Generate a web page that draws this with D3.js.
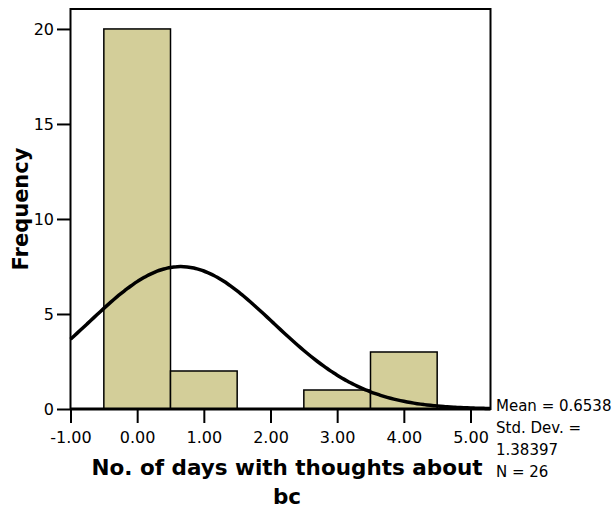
<!DOCTYPE html>
<html>
<head>
<meta charset="utf-8">
<script src="https://cdn.jsdelivr.net/npm/d3@7"></script>
<style>
    body { margin: 0; background: #ffffff; }
    svg { display: block; }
</style>
</head>
<body>
<div id="histogram"></div>
<script>
// histogram bins (left edges), counts and axis ticks
const binStarts = [-0.5, 0.5, 1.5, 2.5, 3.5];
const binWidth = 1;
const frequencies = [20, 2, 0, 1, 3];
const xTickValues = [-1, 0, 1, 2, 3, 4, 5];
const yTickValues = [0, 5, 10, 15, 20];

// summary stats printed beside the chart
const meanValue = 0.6538;
const stdDevValue = 1.38397;
const countN = 26;
const statsLines = ["Mean = 0.6538", "Std. Dev. =", "1.38397", "N = 26"];
const xTitleLines = ["No. of days with thoughts about", "bc"];
const yTitle = "Frequency";

window.addEventListener("load", function () {
    drawHistogram();
});

function drawHistogram() {
    const canvasWidth = 615;
    const canvasHeight = 512;
    const plotLeft = 70.5, plotRight = 490.5, plotTop = 9, plotBottom = 409;

    const svg = d3.select("#histogram")
        .append("svg")
        .attr("width", canvasWidth)
        .attr("height", canvasHeight);

    const xScale = d3.scaleLinear()
        .domain([-1, 5.3])
        .range([plotLeft, plotRight]);

    const yScale = d3.scaleLinear()
        .domain([0, 21.05])
        .range([plotBottom, plotTop]);

    // bars
    const bins = binStarts.map((b, i) => ({ x0: b, x1: b + binWidth, count: frequencies[i] }));
    svg.append("g")
        .selectAll("rect")
        .data(bins.filter(d => d.count > 0))
        .join("rect")
        .attr("x", d => xScale(d.x0))
        .attr("y", d => yScale(d.count))
        .attr("width", d => xScale(d.x1) - xScale(d.x0))
        .attr("height", d => yScale(0) - yScale(d.count))
        .attr("fill", "#d3ce99")
        .attr("stroke", "#000")
        .attr("stroke-width", 1.5);

    // fitted normal curve (from mean, sd and N shown in the chart)
    const scaleFactor = countN * binWidth / (stdDevValue * Math.sqrt(2 * Math.PI));
    const curvePts = d3.range(-1, 5.3001, 0.05).map(x => ({
        x: x,
        y: scaleFactor * Math.exp(-0.5 * Math.pow((x - meanValue) / stdDevValue, 2))
    }));
    const line = d3.line()
        .x(d => xScale(d.x))
        .y(d => yScale(d.y))
        .curve(d3.curveBasis);
    svg.append("path")
        .datum(curvePts)
        .attr("fill", "none")
        .attr("stroke", "#000")
        .attr("stroke-width", 3.5)
        .attr("d", line);

    // frame
    svg.append("rect")
        .attr("x", plotLeft)
        .attr("y", plotTop)
        .attr("width", plotRight - plotLeft)
        .attr("height", plotBottom - plotTop)
        .attr("fill", "none")
        .attr("stroke", "#000")
        .attr("stroke-width", 2);

    // axes
    const xAxis = svg.append("g")
        .attr("transform", `translate(0, ${plotBottom})`)
        .call(d3.axisBottom(xScale)
            .tickValues(xTickValues)
            .tickFormat(d => d.toFixed(2))   // plain hyphen like the original
            .tickSize(14)
            .tickPadding(8.5));

    const yAxis = svg.append("g")
        .attr("transform", `translate(${plotLeft}, 0)`)
        .call(d3.axisLeft(yScale)
            .tickValues(yTickValues)
            .tickSize(13.5)
            .tickPadding(3));

    [xAxis, yAxis].forEach(ax => {
        ax.select(".domain").remove();
        ax.selectAll("line").attr("stroke", "#000").attr("stroke-width", 2);
        ax.selectAll("text")
            .attr("fill", "#000")
            .style("font-family", "'DejaVu Sans'")
            .style("font-size", "16px");
    });
    // x axis line drawn separately (on top of bars)
    svg.append("line")
        .attr("x1", plotLeft).attr("x2", plotRight)
        .attr("y1", plotBottom).attr("y2", plotBottom)
        .attr("stroke", "#000")
        .attr("stroke-width", 3);

    // x title (two lines)
    svg.append("text")
        .attr("text-anchor", "middle")
        .style("font-family", "'DejaVu Sans'")
        .style("font-weight", "bold")
        .style("font-size", "21.5px")
        .selectAll("tspan")
        .data(xTitleLines)
        .join("tspan")
        .attr("x", 287)
        .attr("y", (d, i) => 475 + i * 29)
        .text(d => d);

    // y title
    svg.append("text")
        .attr("transform", `translate(28, ${(plotTop + plotBottom) / 2}) rotate(-90)`)
        .attr("text-anchor", "middle")
        .style("font-family", "'DejaVu Sans'")
        .style("font-weight", "bold")
        .style("font-size", "21px")
        .text(yTitle);

    // stats box
    svg.append("text")
        .style("font-family", "'DejaVu Sans'")
        .style("font-size", "15px")
        .attr("fill", "#000")
        .selectAll("tspan")
        .data(statsLines)
        .join("tspan")
        .attr("x", 496)
        .attr("y", (d, i) => 411 + i * 22)
        .text(d => d);
}
</script>
</body>
</html>
